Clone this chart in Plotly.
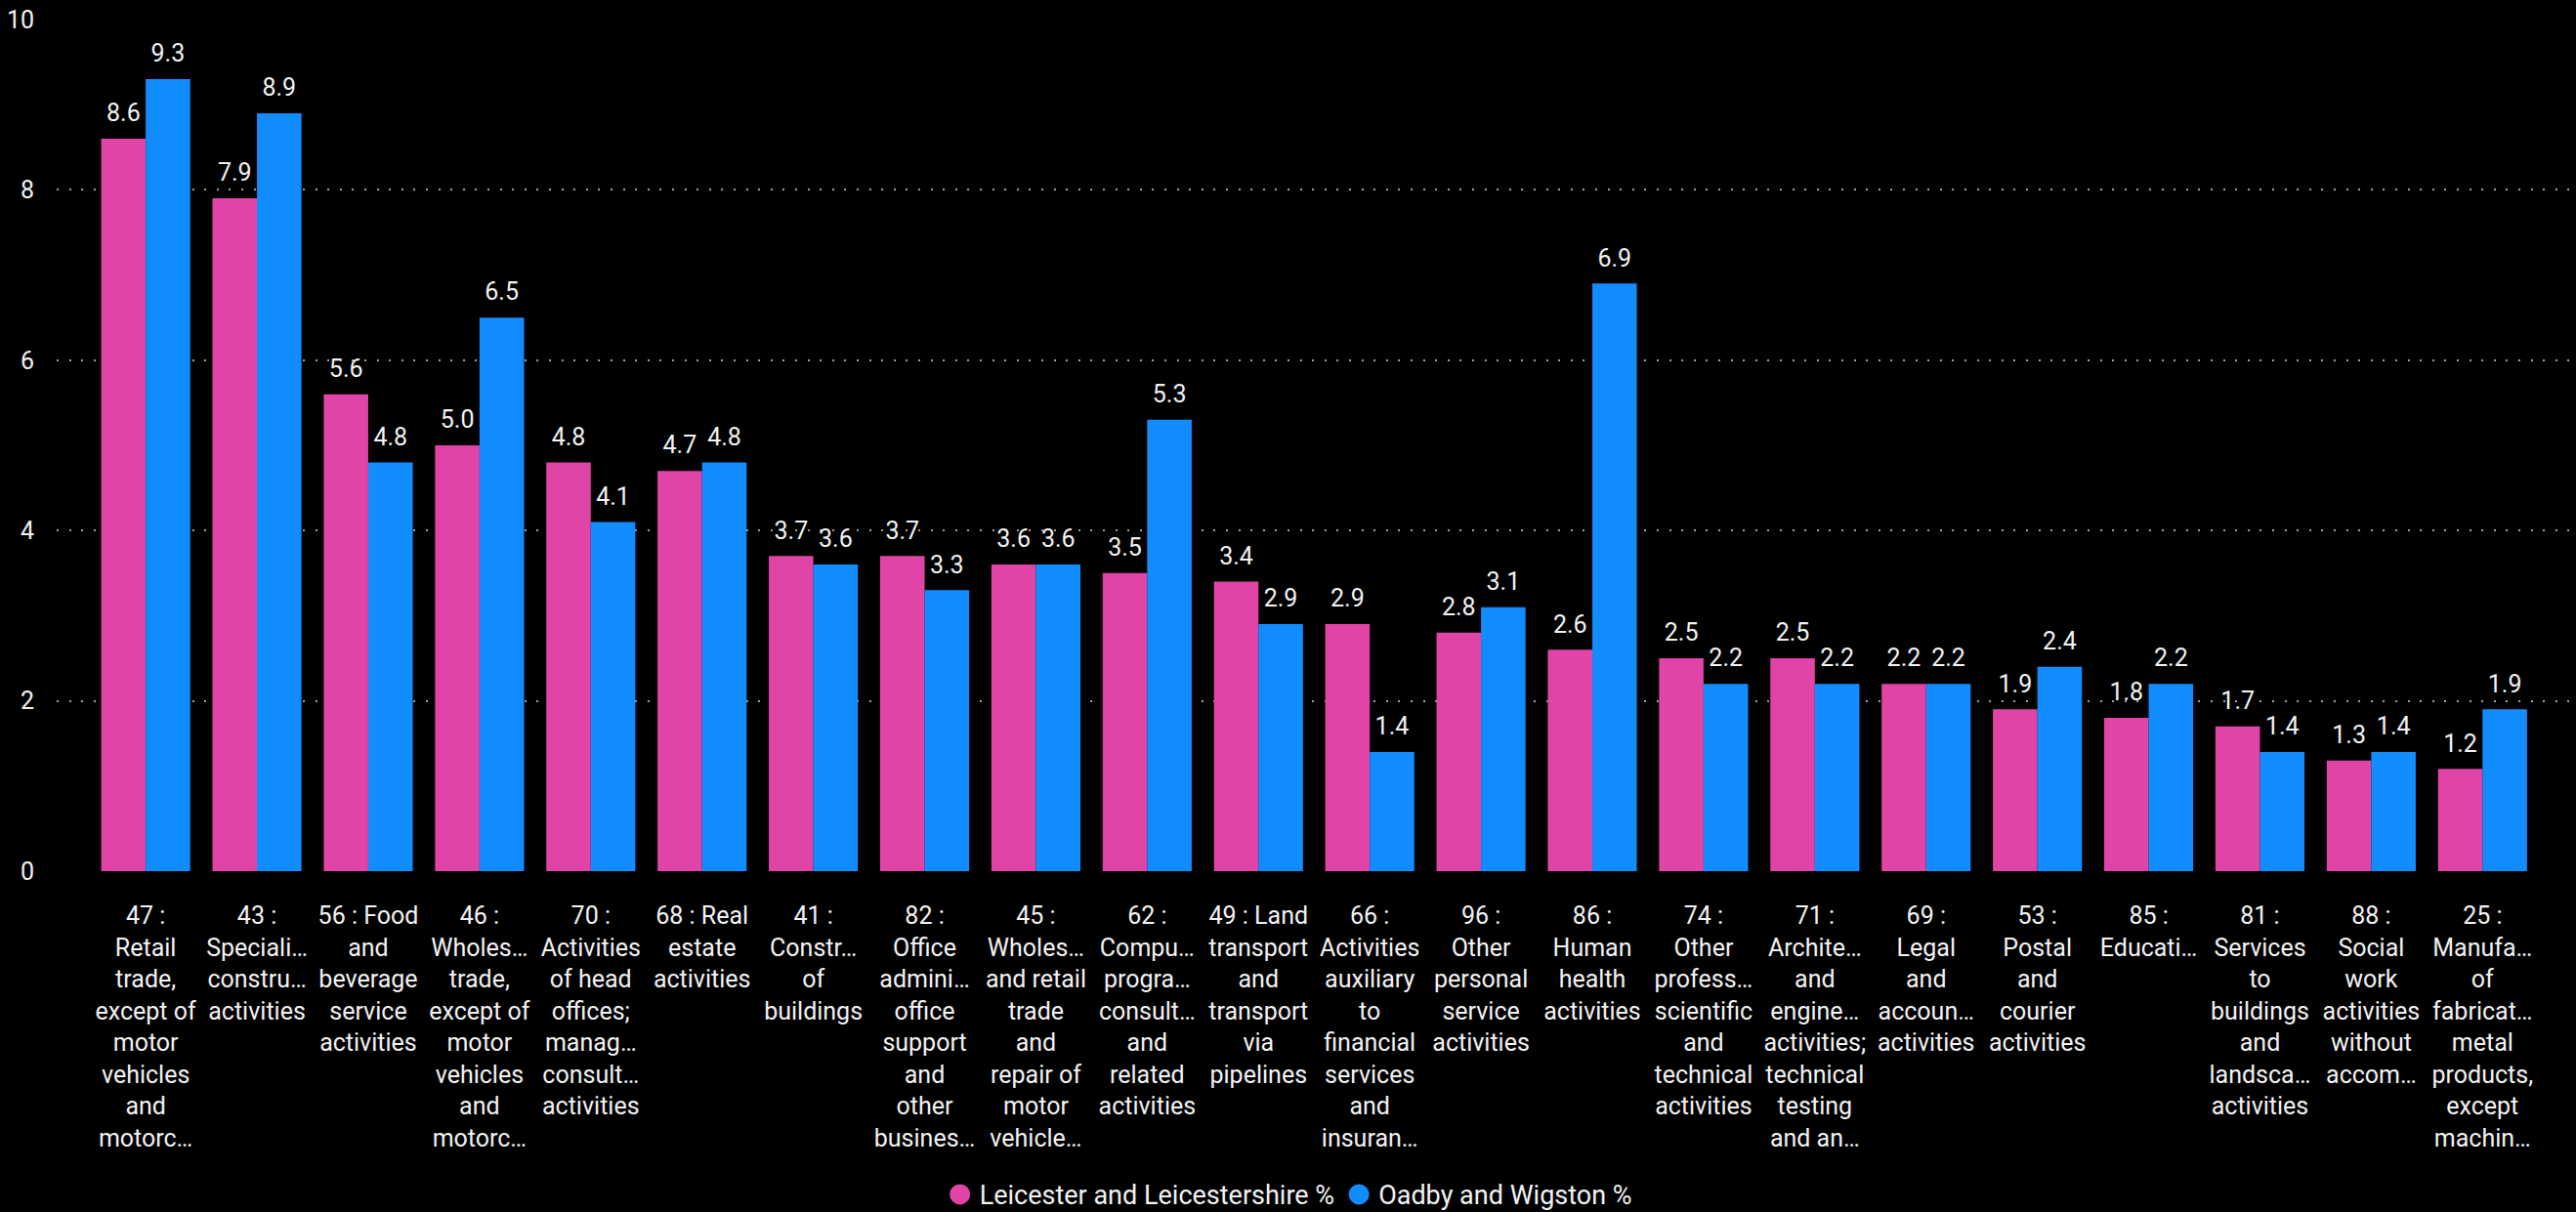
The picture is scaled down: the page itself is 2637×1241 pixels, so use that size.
import plotly.graph_objects as go

categories = [
    "47 :<br>Retail<br>trade,<br>except of<br>motor<br>vehicles<br>and<br>motorc…",
    "43 :<br>Speciali…<br>constru…<br>activities",
    "56 : Food<br>and<br>beverage<br>service<br>activities",
    "46 :<br>Wholes…<br>trade,<br>except of<br>motor<br>vehicles<br>and<br>motorc…",
    "70 :<br>Activities<br>of head<br>offices;<br>manag…<br>consult…<br>activities",
    "68 : Real<br>estate<br>activities",
    "41 :<br>Constr…<br>of<br>buildings",
    "82 :<br>Office<br>admini…<br>office<br>support<br>and<br>other<br>busines…",
    "45 :<br>Wholes…<br>and retail<br>trade<br>and<br>repair of<br>motor<br>vehicle…",
    "62 :<br>Compu…<br>progra…<br>consult…<br>and<br>related<br>activities",
    "49 : Land<br>transport<br>and<br>transport<br>via<br>pipelines",
    "66 :<br>Activities<br>auxiliary<br>to<br>financial<br>services<br>and<br>insuran…",
    "96 :<br>Other<br>personal<br>service<br>activities",
    "86 :<br>Human<br>health<br>activities",
    "74 :<br>Other<br>profess…<br>scientific<br>and<br>technical<br>activities",
    "71 :<br>Archite…<br>and<br>engine…<br>activities;<br>technical<br>testing<br>and an…",
    "69 :<br>Legal<br>and<br>accoun…<br>activities",
    "53 :<br>Postal<br>and<br>courier<br>activities",
    "85 :<br>Educati…",
    "81 :<br>Services<br>to<br>buildings<br>and<br>landsca…<br>activities",
    "88 :<br>Social<br>work<br>activities<br>without<br>accom…",
    "25 :<br>Manufa…<br>of<br>fabricat…<br>metal<br>products,<br>except<br>machin…",
]

leicester = [8.6, 7.9, 5.6, 5.0, 4.8, 4.7, 3.7, 3.7, 3.6, 3.5, 3.4,
             2.9, 2.8, 2.6, 2.5, 2.5, 2.2, 1.9, 1.8, 1.7, 1.3, 1.2]
oadby = [9.3, 8.9, 4.8, 6.5, 4.1, 4.8, 3.6, 3.3, 3.6, 5.3, 2.9,
         1.4, 3.1, 6.9, 2.2, 2.2, 2.2, 2.4, 2.2, 1.4, 1.4, 1.9]

y_ticks = [0, 2, 4, 6, 8, 10]

series = [
    ("Leicester and Leicestershire %", leicester, "#E044A7", "a"),
    ("Oadby and Wigston %", oadby, "#118DFF", "b"),
]

FONT = "Segoe UI, Roboto, sans-serif"
TXT = "#F2F2F2"
FS = 25
LABEL_PAD = 0.1  # extra space between bar top and value label (data units)

fig = go.Figure()
for name, vals, col, grp in series:
    fig.add_trace(go.Bar(
        x=categories, y=vals, name=name, marker_color=col, offsetgroup=grp,
        marker_line_width=0, showlegend=False,
    ))
    # transparent spacer sitting on top of each bar, carries the value label
    fig.add_trace(go.Bar(
        x=categories, y=[LABEL_PAD] * len(vals), base=vals, offsetgroup=grp,
        marker_color="rgba(0,0,0,0)", marker_line_width=0,
        text=[f"{v:.1f}" for v in vals], textposition="outside",
        constraintext="none",
        textfont=dict(size=FS, color=TXT, family=FONT),
        cliponaxis=False, showlegend=False, hoverinfo="skip",
    ))

# circle legend entries
for name, vals, col, grp in series:
    fig.add_trace(go.Scatter(
        x=[None], y=[None], mode="markers", name=name,
        marker=dict(color=col, size=16, symbol="circle",
                    line=dict(color=col, width=5)),
    ))

fig.update_layout(
    width=2637, height=1241,
    paper_bgcolor="#000000", plot_bgcolor="#000000",
    font=dict(family=FONT, size=FS, color=TXT),
    margin=dict(l=58, r=0, t=20, b=349, autoexpand=False),
    barmode="group", bargap=0.2, bargroupgap=0,
    legend=dict(orientation="h", x=0.489, xanchor="center",
                y=-0.38, yanchor="middle", font=dict(size=27, color=TXT),
                itemwidth=30, tracegroupgap=0),
)
fig.update_xaxes(
    range=[-0.8, len(categories) - 0.16], showgrid=False, showline=False,
    zeroline=False, tickangle=0, ticks="", ticklabelstandoff=28,
    tickfont=dict(size=FS, color=TXT),
)
fig.update_yaxes(
    range=[0, 10], tickvals=y_ticks, showgrid=True, gridcolor="#A0A0A0",
    gridwidth=2, griddash="2px,10.6px", zeroline=False, showline=False,
    ticks="", ticklabelstandoff=22, tickfont=dict(size=FS, color=TXT),
)

fig.write_html(
    "out.html",
    config={"displayModeBar": False},
    post_script="document.body.style.margin='0';"
                "document.body.style.background='#000';",
)
